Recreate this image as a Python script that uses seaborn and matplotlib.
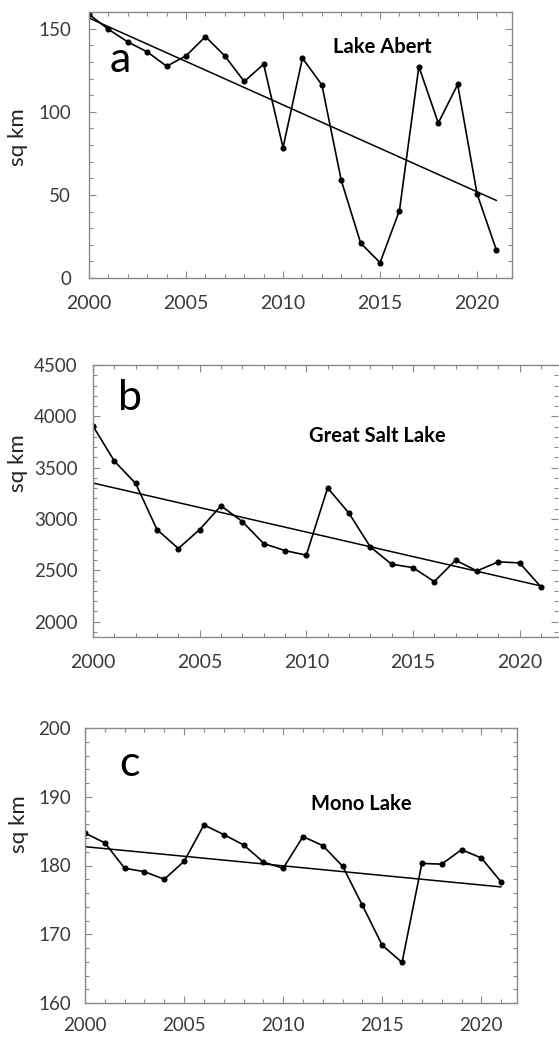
import numpy as np
import pandas as pd
import matplotlib
matplotlib.use("Agg")
import matplotlib.pyplot as plt
from matplotlib.ticker import MultipleLocator
import seaborn as sns

years = list(range(2000, 2022))

abert = [158.6, 149.6, 142.0, 136.0, 127.4, 133.6, 145.2, 133.6, 118.2, 128.6, 78.4,
         132.2, 116.2, 58.8, 21.0, 9.2, 40.6, 127.2, 93.2, 116.4, 50.6, 16.6]
great_salt = [3905, 3564, 3346, 2897, 2712, 2897, 3128, 2975, 2760, 2692, 2647,
              3303, 3056, 2728, 2559, 2526, 2390, 2598, 2494, 2582, 2572, 2338]
mono = [184.7, 183.3, 179.6, 179.1, 178.0, 180.6, 185.9, 184.5, 183.0, 180.5, 179.6,
        184.2, 182.9, 179.9, 174.2, 168.4, 165.9, 180.3, 180.2, 182.3, 181.1, 177.6]

letters = ["a", "b", "c"]
titles = ["Lake Abert", "Great Salt Lake", "Mono Lake"]
ylabel = "sq km"
xticks = [2000, 2005, 2010, 2015, 2020]
yticks_a = [0, 50, 100, 150]
yticks_b = [2000, 2500, 3000, 3500, 4000, 4500]
yticks_c = [160, 170, 180, 190, 200]

sns.set_style("ticks")
plt.rcParams["font.family"] = ["Lato", "DejaVu Sans"]

W, H = 559, 1038
fig = plt.figure(figsize=(W / 100, H / 100), dpi=100)

def px_axes(left, right, top, bottom):
    return fig.add_axes([left / W, 1 - bottom / H, (right - left) / W, (bottom - top) / H])

axes = [px_axes(89, 512, 12, 278), px_axes(93, 558, 365, 637), px_axes(85, 517, 728, 1003)]
series = [abert, great_salt, mono]
ylims = [(0, 160), (1850, 4500), (160, 200)]
yticks = [yticks_a, yticks_b, yticks_c]
yminor = [10, 100, 2]
ypads = [13, 11, 10]
xpads = [12, 12, 10]
xsizes = [14, 14, 13.5]
letter_pos = [(0.073, 0.774), (0.0796, 0.835), (0.102, 0.825)]
title_pos = [(0.693, 0.846), (0.611, 0.717), (0.639, 0.702)]
ylab_pos = [(-0.168, 0.53), (-0.162, 0.64), (-0.152, 0.65)]

spine_col = "#8a8a8a"
tick_col = "#3a3a3a"

for i, ax in enumerate(axes):
    df = pd.DataFrame({"year": years, "area": series[i]})
    sns.lineplot(data=df, x="year", y="area", ax=ax, color="black", linewidth=1.2,
                 marker="o", markersize=4.4, markeredgewidth=0, markerfacecolor="black")
    sns.regplot(data=df, x="year", y="area", ax=ax, scatter=False, ci=None,
                truncate=True, line_kws={"color": "black", "linewidth": 1.1})
    ax.set_xlim(2000, 2021.8)
    ax.set_ylim(*ylims[i])
    ax.set_xticks(xticks)
    ax.set_yticks(yticks[i])
    ax.xaxis.set_minor_locator(MultipleLocator(1))
    ax.yaxis.set_minor_locator(MultipleLocator(yminor[i]))
    ax.tick_params(axis="both", which="both", direction="in", top=True, right=True,
                   color=spine_col, width=0.8)
    ax.tick_params(axis="both", which="major", length=5)
    ax.tick_params(axis="both", which="minor", length=3)
    ax.tick_params(axis="y", which="major", pad=ypads[i], labelsize=13.5, labelcolor=tick_col)
    ax.tick_params(axis="x", which="major", pad=xpads[i], labelsize=xsizes[i], labelcolor=tick_col)
    for s in ax.spines.values():
        s.set_color(spine_col)
        s.set_linewidth(1.0)
    if i == 1:
        ax.spines["right"].set_visible(False)
    ax.set_xlabel("")
    ax.set_ylabel(ylabel, fontsize=16, color="#222222")
    ax.yaxis.label.set_va("center")
    ax.yaxis.set_label_coords(*ylab_pos[i])
    ax.text(*letter_pos[i], letters[i], transform=ax.transAxes, fontsize=31,
            ha="center", va="baseline", color="black")
    ax.text(*title_pos[i], titles[i], transform=ax.transAxes, fontsize=14.5,
            fontweight="bold", ha="center", va="baseline", color="black")

fig.savefig("out.png", dpi=100)
